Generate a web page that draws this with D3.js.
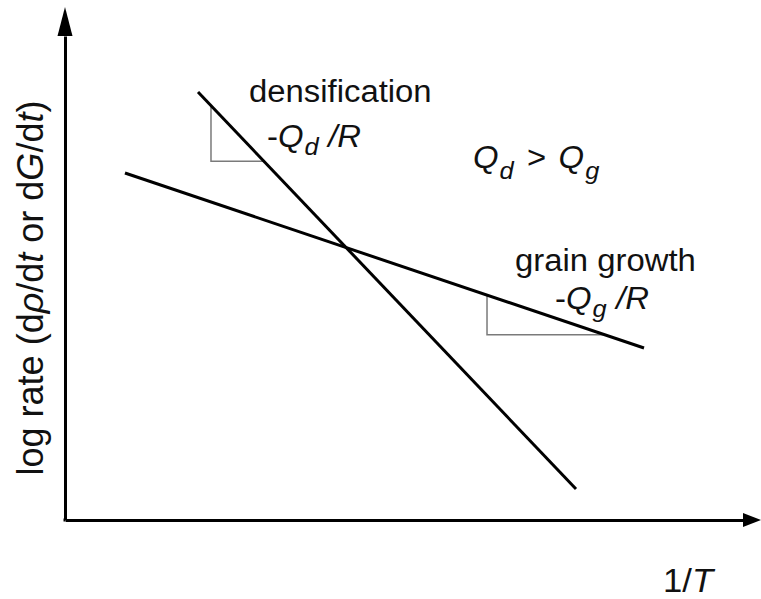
<!DOCTYPE html>
<html>
<head>
<meta charset="utf-8">
<script src="https://cdn.jsdelivr.net/npm/d3@7/dist/d3.min.js"></script>
<style>
  html, body { margin: 0; padding: 0; background: #fff; }
  svg { display: block; }
  text { font-family: "Liberation Sans", Arial, Helvetica, sans-serif; fill: #111; }
</style>
</head>
<body>
<svg id="chart" width="761" height="599"></svg>
<script>
// ---- data (abstract units: x = 1/T, y = log rate) ----
const densificationLine = [ { x: 19.56, y: 88.43 }, { x: 75.15, y: 6.40 } ];
const grainGrowthLine   = [ { x: 8.82,  y: 71.69 }, { x: 85.15, y: 35.54 } ];
const densTriangle  = [ { x: 21.47, y: 85.61 }, { x: 21.47, y: 74.12 }, { x: 29.26, y: 74.12 } ];
const grainTriangle = [ { x: 62.06, y: 46.48 }, { x: 62.06, y: 38.26 }, { x: 79.41, y: 38.26 } ];
const xDomain = [0, 100];
const yDomain = [0, 100];

const svg = d3.select("#chart");
const x = d3.scaleLinear().domain(xDomain).range([65, 745]);
const y = d3.scaleLinear().domain(yDomain).range([520, 36]);

// ---- axes (no ticks) ----
const gx = svg.append("g").attr("transform", `translate(0,${y(0)})`)
  .call(d3.axisBottom(x).tickValues([]).tickSizeOuter(0));
const gy = svg.append("g").attr("transform", `translate(${x(0)},0)`)
  .call(d3.axisLeft(y).tickValues([]).tickSizeOuter(0));
[gx, gy].forEach(g => g.select(".domain").attr("stroke", "#000").attr("stroke-width", 3));
svg.append("line").attr("x1", x(0) - 1.5).attr("x2", x(0)).attr("y1", y(0)).attr("y2", y(0))
  .attr("stroke", "#000").attr("stroke-width", 3);

// arrowheads
const x0 = x(0), y0 = y(0), xEnd = x.range()[1], yEnd = y.range()[1];
svg.append("path")
  .attr("d", `M${x0},${yEnd - 29} L${x0 - 7.5},${yEnd} L${x0 + 7.5},${yEnd} Z`)
  .attr("fill", "#000");
svg.append("path")
  .attr("d", `M${xEnd + 16},${y0} L${xEnd - 2},${y0 - 7} L${xEnd - 2},${y0 + 7} Z`)
  .attr("fill", "#000");

// ---- slope triangles ----
const tri = d3.line().x(d => x(d.x)).y(d => y(d.y));
[densTriangle, grainTriangle].forEach(t => {
  svg.append("path").attr("d", tri(t)).attr("fill", "none")
    .attr("stroke", "#7a7a7a").attr("stroke-width", 1.5);
});

// ---- lines ----
const line = d3.line().x(d => x(d.x)).y(d => y(d.y));
[densificationLine, grainGrowthLine].forEach(l => {
  svg.append("path").attr("d", line(l)).attr("fill", "none")
    .attr("stroke", "#000").attr("stroke-width", 3);
});

// ---- text helpers ----
const FS = 31, SUB = 24, SX = 1.06;
function label(px, py, fs, sx) {
  return svg.append("text")
    .attr("transform", `translate(${px},${py}) scale(${sx},1)`)
    .attr("font-size", fs);
}
function slopeLabel(px, py, sub) {
  const t = label(px, py, FS, SX);
  t.append("tspan").text("-");
  t.append("tspan").attr("font-style", "italic").text("Q");
  t.append("tspan").attr("font-style", "italic").attr("font-size", SUB).attr("dy", 8).attr("dx", 1).text(sub);
  t.append("tspan").attr("font-style", "italic").attr("dy", -8).attr("dx", 9).text("/R");
}

label(249, 102, FS, SX).text("densification");
slopeLabel(267, 147, "d");

const qq = label(473, 168, FS, SX);
qq.append("tspan").attr("font-style", "italic").text("Q");
qq.append("tspan").attr("font-style", "italic").attr("font-size", SUB).attr("dy", 11).attr("dx", 1).text("d");
qq.append("tspan").attr("dy", -11).attr("dx", 4).text(" > ");
qq.append("tspan").attr("font-style", "italic").attr("dx", 3).text("Q");
qq.append("tspan").attr("font-style", "italic").attr("font-size", SUB).attr("dy", 11).attr("dx", 1).text("g");

label(515, 271, FS, SX).text("grain growth");
slopeLabel(555, 309, "g");

const xt = label(663, 592, 33, 1.05);
xt.append("tspan").text("1/");
xt.append("tspan").attr("font-style", "italic").text("T");

// y label
const yl = svg.append("text")
  .attr("transform", `translate(43,${288}) rotate(-90)`)
  .attr("text-anchor", "middle")
  .attr("font-size", 36);
yl.append("tspan").text("log rate (d");
yl.append("tspan").attr("font-style", "italic").text("ρ");
yl.append("tspan").text("/d");
yl.append("tspan").attr("font-style", "italic").text("t");
yl.append("tspan").text(" or d");
yl.append("tspan").attr("font-style", "italic").text("G");
yl.append("tspan").text("/d");
yl.append("tspan").attr("font-style", "italic").text("t");
yl.append("tspan").text(")");
</script>
</body>
</html>
